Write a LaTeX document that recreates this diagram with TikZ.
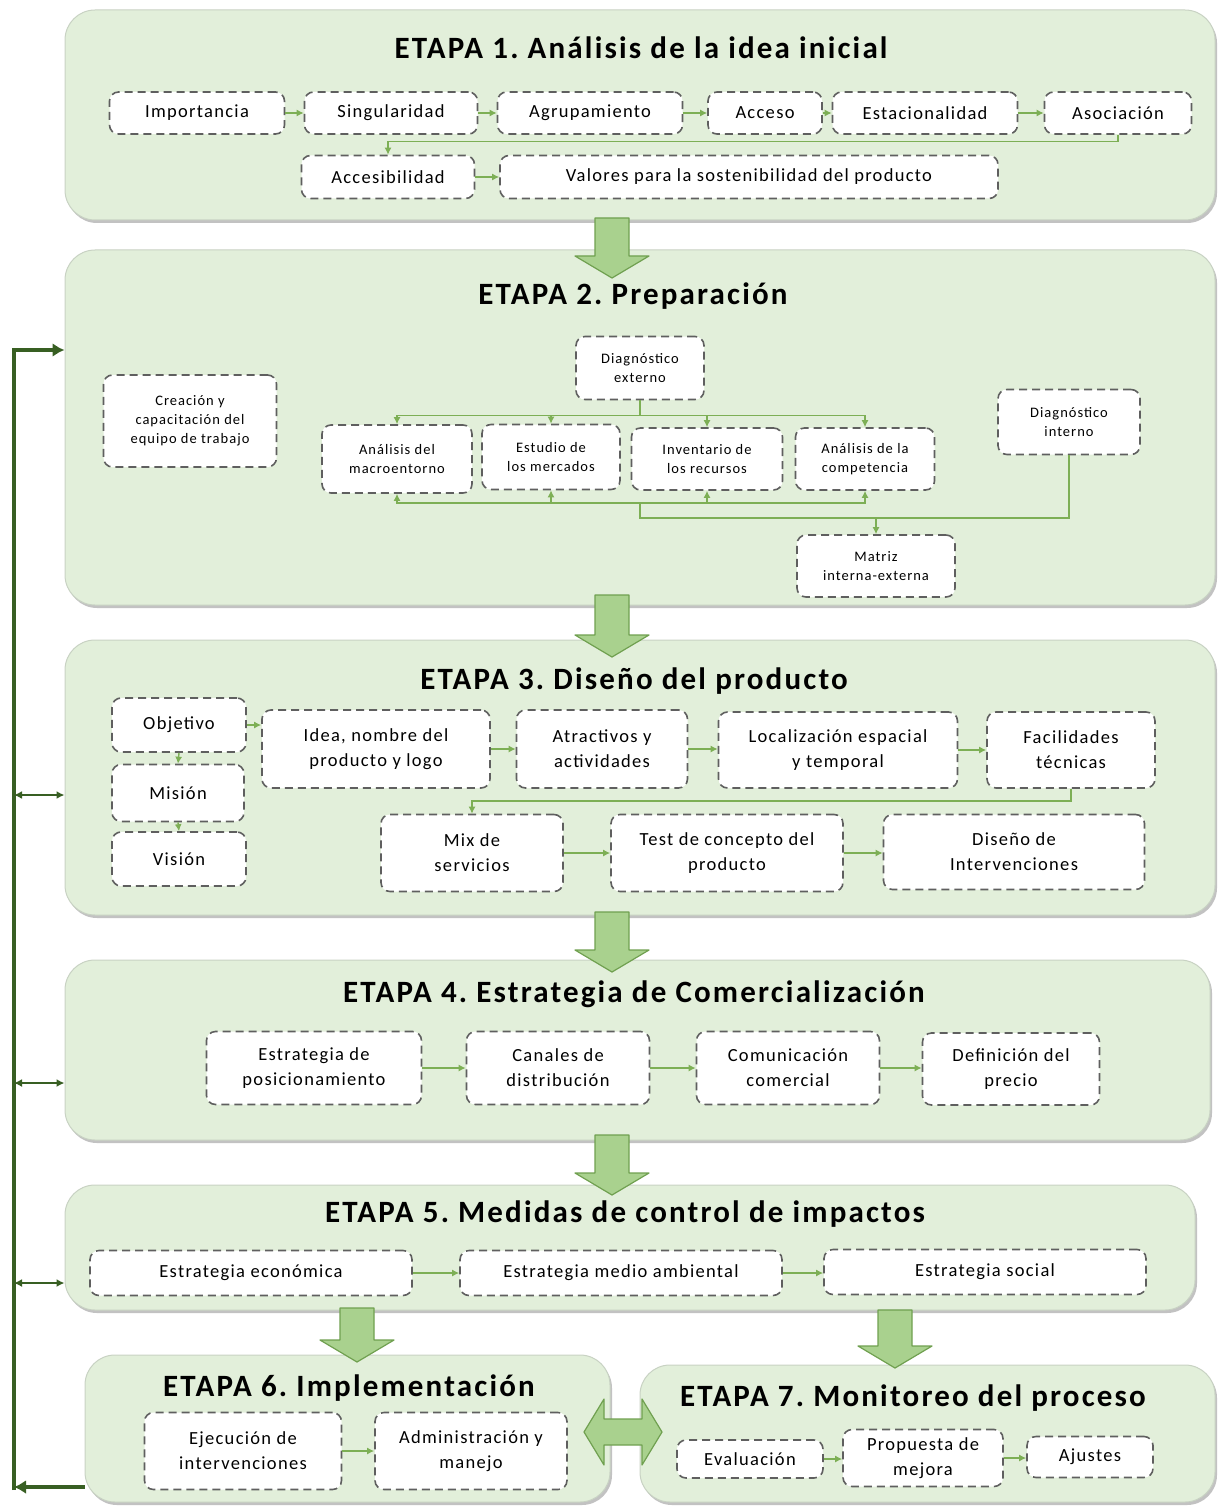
\documentclass[tikz,border=0pt]{standalone}
\usepackage{fontspec}
\setmainfont{Carlito}[LetterSpace=7]
\usepackage{tikz}
\usetikzlibrary{arrows.meta,shadows}
\frenchspacing

\definecolor{fondoetapa}{RGB}{226,239,218}
\definecolor{bordeetapa}{RGB}{200,210,195}
\definecolor{verdeflecha}{RGB}{169,209,142}
\definecolor{bordeflecha}{RGB}{112,160,80}
\definecolor{verdelinea}{RGB}{125,175,85}
\definecolor{verdeoscuro}{RGB}{56,95,35}
\definecolor{grisborde}{RGB}{95,95,95}

\tikzset{
  etapa/.style={draw=bordeetapa,fill=fondoetapa,rounded corners=30pt,line width=1pt,
    drop shadow={shadow xshift=2pt,shadow yshift=-3pt,fill=gray!80,opacity=.6}},
  titulo/.style={font=\bfseries\fontsize{31}{34}\selectfont},
  caja/.style={draw=grisborde,fill=white,rounded corners=9pt,line width=1.6pt,
    dash pattern=on 8pt off 5pt,align=center,inner sep=2pt,
    font=\fontsize{18.5}{25}\selectfont},
  cajita/.style={caja,font=\fontsize{14.5}{19}\selectfont},
  tam/.style 2 args={minimum width=#1,minimum height=#2},
  linea/.style={draw=verdelinea,line width=1.4pt},
  flecha/.style={linea,-{Latex[length=7pt,width=7pt]}},
  retro/.style={draw=verdeoscuro,line width=3.5pt,line join=miter,-{Latex[length=12pt,width=14pt]}},
  retrofina/.style={draw=verdeoscuro,line width=1.8pt,{Latex[length=8pt,width=8pt]}-{Latex[length=8pt,width=8pt]}},
  bloque/.style={draw=bordeflecha,fill=verdeflecha,line width=1.2pt,line join=round},
  pics/bajada/.style={code={
    \draw[bloque] (-17,0) -- (17,0) -- (17,#1-22) -- (37,#1-22) -- (0,#1)
      -- (-37,#1-22) -- (-17,#1-22) -- cycle;}},
  pics/doble/.style={code={
    \draw[bloque] (-39,0) -- (-19,-33) -- (-19,-13) -- (19,-13) -- (19,-33) -- (39,0)
      -- (19,33) -- (19,13) -- (-19,13) -- (-19,33) -- cycle;}},
}

\begin{document}
\begin{tikzpicture}[x=1pt,y=-1pt]
  \useasboundingbox (0,0) rectangle (1220,1506);

  % etapas
  \node[etapa,tam={1150}{210}] (s1) at (640,115) {};
  \node[etapa,tam={1150}{355}] (s2) at (640,427.5) {};
  \node[etapa,tam={1150}{275}] (s3) at (640,777.5) {};
  \node[etapa,tam={1145}{180}] (s4) at (637.5,1050) {};
  \node[etapa,tam={1130}{125}] (s5) at (630,1247.5) {};
  \node[etapa,tam={525}{147}] (s6) at (347.5,1428.5) {};
  \node[etapa,tam={575}{137}] (s7) at (927.5,1433.5) {};

  % flechas grandes
  \pic at (612,218) {bajada=60};
  \pic at (612,595) {bajada=62};
  \pic at (612,912) {bajada=60};
  \pic at (612,1135) {bajada=60};
  \pic at (357,1308) {bajada=54};
  \pic at (895,1310) {bajada=58};
  \pic at (623,1432) {doble};

  % titulos
  \node[titulo] (t1) at (641,48) {ETAPA 1. Análisis de la idea inicial};
  \node[titulo] (t2) at (633,296) {ETAPA 2. Preparación};
  \node[titulo] (t3) at (634,681) {ETAPA 3. Diseño del producto};
  \node[titulo] (t4) at (634,994) {ETAPA 4. Estrategia de Comercialización};
  \node[titulo] (t5) at (625,1214) {ETAPA 5. Medidas de control de impactos};
  \node[titulo] (t6) at (349,1388) {ETAPA 6. Implementación};
  \node[titulo] (t7) at (913,1398) {ETAPA 7. Monitoreo del proceso};

  % etapa 1
  \node[caja,tam={175}{42}] (imp) at (197,113) {Importancia};
  \node[caja,tam={173}{42}] (sin) at (391,113) {Singularidad};
  \node[caja,tam={185}{42}] (agr) at (590,113) {Agrupamiento};
  \node[caja,tam={114}{42}] (acs) at (765,113) {Acceso};
  \node[caja,tam={185}{42}] (est) at (925,113) {Estacionalidad};
  \node[caja,tam={147}{42}] (aso) at (1118,113) {Asociación};
  \node[caja,tam={173}{43}] (acb) at (388,177) {Accesibilidad};
  \node[caja,tam={498}{43}] (val) at (749,177) {Valores para la sostenibilidad del producto};
  \foreach \a/\b in {imp/sin,sin/agr,agr/acs,acs/est,est/aso,acb/val}
    \draw[flecha] (\a.east) -- (\a.east -| \b.west);
  \draw[flecha] (aso.south) -- ++(0,7) -| (acb.north);

  % etapa 2
  \node[cajita,tam={173}{92}] (cre) at (190,421) {Creación y\\capacitación del\\equipo de trabajo};
  \node[cajita,tam={128}{63}] (dex) at (640,368) {Diagnóstico\\externo};
  \node[cajita,tam={150}{68}] (mac) at (397,459) {Análisis del\\macroentorno};
  \node[cajita,tam={138}{65}] (mer) at (551,457) {Estudio de\\los mercados};
  \node[cajita,tam={151}{62}] (inv) at (707,459) {Inventario de\\los recursos};
  \node[cajita,tam={139}{62}] (com) at (865,459) {Análisis de la\\competencia};
  \node[cajita,tam={142}{65}] (din) at (1069,422) {Diagnóstico\\interno};
  \node[cajita,tam={158}{62}] (mat) at (876,566) {Matriz\\interna-externa};
  \draw[linea] (dex.south) -- ++(0,15) coordinate (ramal);
  \coordinate (junta) at (640,503);
  \foreach \n in {mac,mer,inv,com} {
    \draw[flecha] (ramal) -| (\n.north);
    \draw[flecha] (junta) -| (\n.south);
  }
  \draw[linea] (junta) -- ++(0,15) coordinate (union) -| (din.south);
  \draw[flecha] (union) -| (mat.north);

  % etapa 3
  \node[caja,tam={134}{54}] (obj) at (179,725) {Objetivo};
  \node[caja,tam={132}{57}] (mis) at (178,793) {Misión};
  \node[caja,tam={134}{54}] (vis) at (179,859) {Visión};
  \node[caja,tam={228}{78}] (ide) at (376,749) {Idea, nombre del\\producto y logo};
  \node[caja,tam={171}{78}] (atr) at (602,749) {Atractivos y\\actividades};
  \node[caja,tam={239}{76}] (loc) at (838,750) {Localización espacial\\y temporal};
  \node[caja,tam={168}{76}] (fac) at (1071,750) {Facilidades\\técnicas};
  \node[caja,tam={182}{77}] (mix) at (472,853) {Mix de\\servicios};
  \node[caja,tam={232}{77}] (tes) at (727,853) {Test de concepto del\\producto};
  \node[caja,tam={261}{75}] (dis) at (1014,852) {Diseño de\\Intervenciones};
  \draw[flecha] (obj.south) -- (mis.north);
  \draw[flecha] (mis.south) -- (vis.north);
  \foreach \a/\b in {obj/ide,ide/atr,atr/loc,loc/fac,mix/tes,tes/dis}
    \draw[flecha] (\a.east) -- (\a.east -| \b.west);
  \draw[flecha] (fac.south) -- ++(0,12) -| (mix.north);

  % etapa 4
  \node[caja,tam={215}{73}] (pos) at (314,1068) {Estrategia de\\posicionamiento};
  \node[caja,tam={183}{73}] (can) at (558,1068) {Canales de\\distribución};
  \node[caja,tam={183}{73}] (cmc) at (788,1068) {Comunicación\\comercial};
  \node[caja,tam={177}{72}] (pre) at (1011,1069) {Definición del\\precio};
  \foreach \a/\b in {pos/can,can/cmc,cmc/pre}
    \draw[flecha] (\a.east) -- (\a.east -| \b.west);

  % etapa 5
  \node[caja,tam={322}{45}] (eco) at (251,1273) {Estrategia económica};
  \node[caja,tam={322}{45}] (amb) at (621,1273) {Estrategia medio ambiental};
  \node[caja,tam={322}{45}] (soc) at (985,1272) {Estrategia social};
  \foreach \a/\b in {eco/amb,amb/soc}
    \draw[flecha] (\a.east) -- (\a.east -| \b.west);

  % etapa 6
  \node[caja,tam={197}{77}] (eje) at (243,1451) {Ejecución de\\intervenciones};
  \node[caja,tam={192}{77}] (adm) at (471,1451) {Administración y\\manejo};
  \draw[flecha] (eje.east) -- (eje.east -| adm.west);

  % etapa 7
  \node[caja,tam={146}{38}] (eva) at (750,1459) {Evaluación};
  \node[caja,tam={160}{57}] (pro) at (923,1458) {Propuesta de\\mejora};
  \node[caja,tam={126}{41}] (aju) at (1090,1457) {Ajustes};
  \foreach \a/\b in {eva/pro,pro/aju}
    \draw[flecha] (\a.east) -- (\a.east -| \b.west);

  % retroalimentacion
  \coordinate (arriba) at (14,350);
  \coordinate (abajo) at (14,1490);
  \coordinate (r3) at (14,795);
  \coordinate (r4) at (14,1083);
  \coordinate (r5) at (14,1283);
  \draw[retro] (abajo) -- (arriba) -- (arriba -| s2.west);
  \draw[retro] (s6.west |- 0,1487) -- (14,1487);
  \foreach \r/\s in {r3/s3,r4/s4,r5/s5}
    \draw[retrofina] (\r) -- (\r -| \s.west);
\end{tikzpicture}
\end{document}
